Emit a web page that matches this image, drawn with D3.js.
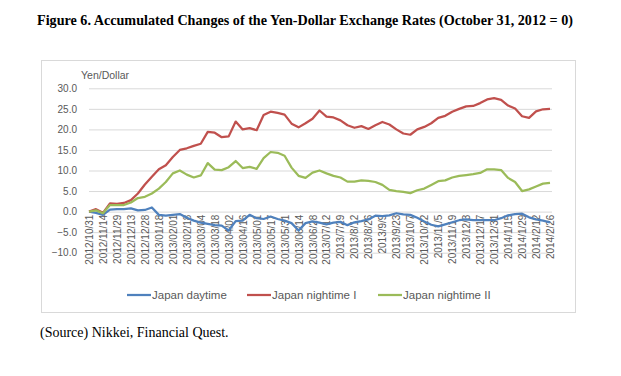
<!DOCTYPE html>
<html lang="en">

<head>
    <meta charset="UTF-8">
    <title>Yen-Dollar accumulated changes</title>
    <style>
        body { margin: 0; background: #fff; }
        svg { display: block; }
    </style>
</head>

<body>
    <div id="wrapper"></div>
    <script src="https://d3js.org/d3.v7.min.js"></script>
    <script>
        // x軸標籤 (每兩個資料點一個)
        const dateLabels = ['2012/10/31', '2012/11/14', '2012/11/29', '2012/12/13', '2012/12/28', '2013/01/18',
            '2013/02/01', '2013/02/18', '2013/03/04', '2013/03/18', '2013/04/02', '2013/04/16', '2013/05/01',
            '2013/05/17', '2013/05/31', '2013/06/14', '2013/06/28', '2013/07/12', '2013/7/29', '2013/8/12',
            '2013/8/26', '2013/9/9', '2013/9/23', '2013/10/7', '2013/10/22', '2013/11/5', '2013/11/19',
            '2013/12/3', '2013/12/17', '2013/12/31', '2014/1/15', '2014/1/29', '2014/2/12', '2014/2/26'];

        const seriesNames = ['Japan daytime', 'Japan nightime I', 'Japan nightime II'];

        const daytime = [0, -0.3, -0.8, 0.5, 0.6, 0.6, 0.8, 0.3, 0.4, 1.0, -0.8, -1.0, -0.8, -0.6, -1.5, -2.2,
            -2.7, -3.0, -3.3, -3.4, -4.6, -2.3, -2.2, -0.8, -1.6, -1.8, -1.2, -1.8, -2.2, -2.8, -4.6, -2.8,
            -2.4, -2.7, -3.1, -2.7, -2.5, -3.3, -2.6, -2.3, -1.9, -1.0, -1.1, -0.9, -0.4, -0.7, -0.8, -1.5,
            -2.4, -3.2, -3.6, -3.1, -2.6, -2.1, -1.9, -2.1, -2.1, -2.1, -2.1, -1.6, -0.9, -0.6, -0.5, -1.4,
            -1.9, -2.2, -2.6];

        const nightI = [0, 0.6, -0.3, 2.0, 1.9, 2.1, 2.8, 4.4, 6.6, 8.5, 10.3, 11.3, 13.3, 15.0, 15.4, 16.0,
            16.5, 19.4, 19.2, 18.1, 18.3, 21.9, 20.0, 20.3, 19.8, 23.5, 24.3, 24.0, 23.6, 21.4, 20.5, 21.5,
            22.6, 24.6, 23.1, 22.9, 22.2, 21.0, 20.4, 20.8, 20.1, 21.0, 21.8, 21.2, 20.0, 19.0, 18.7, 20.0,
            20.6, 21.5, 22.8, 23.3, 24.3, 25.0, 25.6, 25.7, 26.4, 27.3, 27.6, 27.2, 25.8, 25.1, 23.2, 22.8,
            24.4, 24.9, 25.0];

        const nightII = [0, 0.3, -0.4, 1.6, 1.6, 1.6, 2.2, 3.3, 3.6, 4.4, 5.6, 7.2, 9.3, 10.0, 9.0, 8.3,
            8.8, 11.8, 10.2, 10.1, 10.8, 12.3, 10.6, 10.9, 10.4, 13.0, 14.5, 14.3, 13.6, 10.7, 8.7, 8.2,
            9.5, 10.0, 9.3, 8.7, 8.3, 7.3, 7.3, 7.6, 7.5, 7.2, 6.5, 5.3, 5.0, 4.8, 4.5, 5.2,
            5.6, 6.5, 7.4, 7.6, 8.3, 8.7, 8.9, 9.1, 9.4, 10.3, 10.3, 10.1, 8.2, 7.2, 5.0, 5.4,
            6.1, 6.8, 7.0];

        const yTicks = [30, 25, 20, 15, 10, 5, 0, -5, -10];
        const colors = ['#4F81BD', '#C0504D', '#9BBB59'];

        const width = 621,
            height = 376;
        const plot = { left: 89, right: 552, top: 88.3, bottom: 252.7 };
        const axisFont = '"Liberation Sans", Arial, sans-serif';
        const textColor = '#595959';

        const svg = d3.select('#wrapper').append('svg')
            .attr('width', width)
            .attr('height', height);

        // 標題
        svg.append('text')
            .attr('x', 37)
            .attr('y', 25)
            .attr('textLength', 536)
            .attr('lengthAdjust', 'spacingAndGlyphs')
            .style('font-family', '"Liberation Serif", "Times New Roman", serif')
            .style('font-weight', 'bold')
            .style('font-size', '14.5px')
            .text('Figure 6. Accumulated Changes of the Yen-Dollar Exchange Rates (October 31, 2012 = 0)');

        // 圖表外框
        svg.append('rect')
            .attr('x', 41.5).attr('y', 60.5)
            .attr('width', 534).attr('height', 252)
            .attr('fill', 'none')
            .attr('stroke', '#d9d9d9');

        // scales
        const nPts = daytime.length;
        const xScale = d3.scaleLinear()
            .domain([0, nPts - 1])
            .range([plot.left, 550]);
        const yScale = d3.scaleLinear()
            .domain([-10, 30])
            .range([plot.bottom, plot.top]);

        // y軸 + 格線
        const yAxis = d3.axisLeft(yScale)
            .tickValues(yTicks)
            .tickSizeInner(-(plot.right - plot.left))
            .tickSizeOuter(0)
            .tickPadding(12)
            .tickFormat(d3.format('.1f'));

        const yG = svg.append('g')
            .attr('class', 'yAxis')
            .attr('transform', `translate(${plot.left},0)`)
            .call(yAxis);
        yG.select('.domain').remove();
        yG.selectAll('line').attr('stroke', '#d9d9d9');
        yG.selectAll('text')
            .style('font-family', axisFont)
            .style('font-size', '10px')
            .attr('fill', textColor);

        svg.append('text')
            .attr('x', 81)
            .attr('y', 79)
            .style('font-family', axisFont)
            .style('font-size', '10.5px')
            .attr('fill', textColor)
            .text('Yen/Dollar');

        // x軸 (交叉於0)
        const xAxis = d3.axisBottom(xScale)
            .tickValues(dateLabels.map((d, i) => i * 2))
            .tickFormat((d) => dateLabels[d / 2])
            .tickSize(0)
            .tickPadding(0);

        const xG = svg.append('g')
            .attr('class', 'xAxis')
            .attr('transform', `translate(0,${yScale(0)})`)
            .call(xAxis);
        xG.select('.domain').remove();
        xG.selectAll('text')
            .attr('transform', 'rotate(-90)')
            .attr('x', -3)
            .attr('y', 0)
            .attr('dy', '0.35em')
            .attr('text-anchor', 'end')
            .style('font-family', axisFont)
            .style('font-size', '10px')
            .attr('fill', textColor);

        // 折線
        const line = d3.line()
            .x((d, i) => xScale(i))
            .y((d) => yScale(d));

        [daytime, nightI, nightII].forEach((s, i) => {
            svg.append('path')
                .datum(s)
                .attr('fill', 'none')
                .attr('stroke', colors[i])
                .attr('stroke-width', 2.25)
                .attr('stroke-linejoin', 'round')
                .attr('d', line);
        });

        // 圖例
        const legendX = [127, 247, 378];
        const legend = svg.append('g').attr('class', 'legend');
        seriesNames.forEach((name, i) => {
            legend.append('line')
                .attr('x1', legendX[i]).attr('x2', legendX[i] + 24)
                .attr('y1', 295).attr('y2', 295)
                .attr('stroke', colors[i])
                .attr('stroke-width', 2.25);
            legend.append('text')
                .attr('x', legendX[i] + 25)
                .attr('y', 295)
                .attr('dy', '0.35em')
                .style('font-family', axisFont)
                .style('font-size', '11.5px')
                .attr('fill', textColor)
                .text(name);
        });

        // 資料來源
        svg.append('text')
            .attr('x', 40)
            .attr('y', 337)
            .style('font-family', '"Liberation Serif", "Times New Roman", serif')
            .style('font-size', '14px')
            .text('(Source) Nikkei, Financial Quest.');
    </script>
</body>

</html>
